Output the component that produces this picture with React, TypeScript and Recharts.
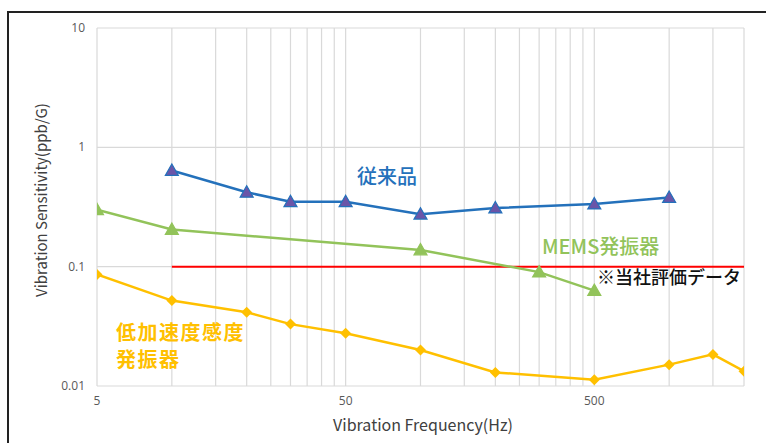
import { CartesianGrid, Line, LineChart, XAxis, YAxis } from 'recharts'

// frequencies (Hz) and sensitivities (ppb/G)
const conventionalX = [10, 20, 30, 50, 100, 200, 500, 1000]
const conventionalY = [0.64, 0.42, 0.35, 0.35, 0.275, 0.31, 0.335, 0.38]

const memsX = [5, 10, 100, 300, 500]
const memsY = [0.3, 0.205, 0.138, 0.09, 0.063]

const lowGX = [5, 10, 20, 30, 50, 100, 200, 500, 1000, 1500, 2000]
const lowGY = [0.086, 0.052, 0.0415, 0.033, 0.0277, 0.02, 0.013, 0.0113, 0.0151, 0.0184, 0.0133]

const refX = [10, 2000]
const refY = [0.1, 0.1]

const xTicks = [5, 10, 15, 20, 25, 30, 35, 40, 45, 50, 100, 150, 200, 250, 300, 350, 400, 450, 500, 1000, 1500, 2000]
const xLabels = [5, 50, 500]
const yTicks = [0.01, 0.1, 1, 10]

const toPoints = (xs: number[], ys: number[]) => xs.map((x, i) => ({ x, y: ys[i] }))

const BLUE = '#2471bb'
const GREEN = '#92c35a'
const ORANGE = '#ffc000'
const FONT = '"Noto Sans CJK JP", "Open Sans", sans-serif'
const TICK_FONT = '"Open Sans", "Noto Sans", sans-serif'

const triangle = (fill: string, stroke: string) => (props: any) => {
  const { cx, cy, index } = props
  if (cx == null || cy == null) return <g key={index} />
  const s = 6.5
  return (
    <path
      key={index}
      d={`M${cx},${cy - s} L${cx + s},${cy + s * 0.75} L${cx - s},${cy + s * 0.75} Z`}
      fill={fill}
      stroke={stroke}
      strokeWidth={1.2}
    />
  )
}

const diamond = (props: any) => {
  const { cx, cy, index } = props
  if (cx == null || cy == null) return <g key={index} />
  const s = 5.5
  return (
    <path
      key={index}
      d={`M${cx},${cy - s} L${cx + s},${cy} L${cx},${cy + s} L${cx - s},${cy} Z`}
      fill={ORANGE}
    />
  )
}

const XTick = (props: any) => {
  const { x, y, payload } = props
  if (!xLabels.includes(payload.value)) return <g />
  return (
    <text x={x} y={y + 11} textAnchor="middle" fill="#595959" fontSize={12} fontFamily={TICK_FONT}>
      {payload.value}
    </text>
  )
}

const YTick = (props: any) => {
  const { x, y, payload } = props
  return (
    <text x={x - 4} y={y + 4} textAnchor="end" fill="#595959" fontSize={12} fontFamily={TICK_FONT}>
      {String(payload.value)}
    </text>
  )
}

const label = (left: number, top: number, color: string, size: number, text: string, bold = false, spacing = 0) => (
  <div
    style={{
      position: 'absolute',
      left,
      top,
      color,
      fontSize: size,
      fontFamily: FONT,
      fontWeight: bold ? 700 : 500,
      letterSpacing: spacing,
      lineHeight: 1,
      height: size,
      whiteSpace: 'nowrap',
    }}
  >
    {text}
  </div>
)

export default function App() {
  return (
    <div
      style={{
        position: 'absolute',
        left: 0,
        top: 0,
        width: 766,
        height: 443,
        background: '#fff',
        overflow: 'hidden',
        fontFamily: FONT,
      }}
    >
      <div
        style={{
          position: 'absolute',
          left: 7,
          top: 11,
          width: 780,
          height: 460,
          border: '2px solid #222',
        }}
      />
      <LineChart
        width={766}
        height={443}
        margin={{ top: 28, right: 22, left: 37, bottom: 27 }}
        style={{ position: 'absolute', left: 0, top: 0 }}
      >
        <CartesianGrid stroke="#d9d9d9" strokeWidth={1.2} />
        <XAxis
          dataKey="x"
          type="number"
          scale="log"
          domain={[5, 2000]}
          allowDataOverflow
          ticks={xTicks}
          interval={0}
          axisLine={false}
          tickLine={false}
          height={30}
          tick={<XTick />}
        />
        <YAxis
          dataKey="y"
          type="number"
          scale="log"
          domain={[0.01, 10]}
          allowDataOverflow
          ticks={yTicks}
          interval={0}
          axisLine={false}
          tickLine={false}
          width={60}
          tick={<YTick />}
        />
        <Line
          data={toPoints(refX, refY)}
          dataKey="y"
          stroke="#ff0000"
          strokeWidth={2}
          dot={false}
          isAnimationActive={false}
        />
        <Line
          data={toPoints(lowGX, lowGY)}
          dataKey="y"
          stroke={ORANGE}
          strokeWidth={2.5}
          dot={diamond}
          isAnimationActive={false}
        />
        <Line
          data={toPoints(memsX, memsY)}
          dataKey="y"
          stroke={GREEN}
          strokeWidth={2.5}
          dot={triangle(GREEN, GREEN)}
          isAnimationActive={false}
        />
        <Line
          data={toPoints(conventionalX, conventionalY)}
          dataKey="y"
          stroke={BLUE}
          strokeWidth={2.5}
          dot={triangle('#6a55a8', BLUE)}
          isAnimationActive={false}
        />
      </LineChart>
      {label(357, 166, BLUE, 20, '従来品')}
      {label(542, 236, GREEN, 20, 'MEMS発振器')}
      {label(597, 267, '#111', 18, '※当社評価データ')}
      {label(116, 322, ORANGE, 20, '低加速度感度', true, 1.5)}
      {label(116, 349, ORANGE, 20, '発振器', true, 1.5)}
      <div
        style={{
          position: 'absolute',
          left: 328,
          top: 416,
          width: 190,
          textAlign: 'center',
          fontSize: 16,
          color: '#404040',
          lineHeight: 1,
          whiteSpace: 'nowrap',
        }}
      >
        Vibration Frequency(Hz)
      </div>
      <div
        style={{
          position: 'absolute',
          left: 40,
          top: 200,
          transform: 'translate(-50%, -50%) rotate(-90deg)',
          fontSize: 15,
          color: '#404040',
          lineHeight: 1,
          whiteSpace: 'nowrap',
        }}
      >
        Vibration Sensitivity(ppb/G)
      </div>
    </div>
  )
}
